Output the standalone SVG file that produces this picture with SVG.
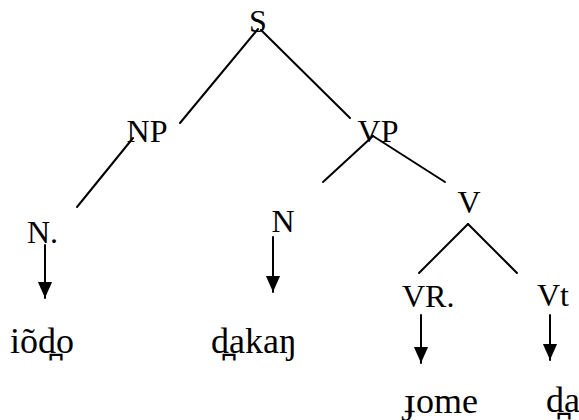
<svg xmlns="http://www.w3.org/2000/svg" width="579" height="420" viewBox="0 0 579 420">
<defs>
<style>
text{font-family:'Liberation Serif','Times New Roman','DejaVu Serif',serif;fill:#000}
.lbl{font-size:32px}
.word{font-size:36px}
.edge{stroke:#000;stroke-width:2;fill:none;stroke-linecap:round}
</style>
<marker id="ah" markerUnits="userSpaceOnUse" markerWidth="16" markerHeight="18" refX="17" refY="7.5" orient="auto" viewBox="0 0 17 15">
<path d="M0,0 L17,7.5 L0,15 Z" fill="#000"/>
</marker>
</defs>
<rect width="579" height="420" fill="#fff"/>
<g id="connectors">
<line class="edge" x1="258" y1="29" x2="180" y2="123"/>
<line class="edge" x1="261" y1="30" x2="350" y2="118"/>
<line class="edge" x1="133" y1="138" x2="77" y2="207"/>
<line class="edge" x1="373" y1="136" x2="323" y2="182"/>
<line class="edge" x1="373" y1="136" x2="445" y2="182"/>
<line class="edge" x1="468" y1="224" x2="419" y2="273"/>
<line class="edge" x1="468" y1="224" x2="517" y2="273"/>
<line class="edge" x1="45" y1="245" x2="45" y2="298" marker-end="url(#ah)"/>
<line class="edge" x1="273" y1="237" x2="273" y2="292" marker-end="url(#ah)"/>
<line class="edge" x1="421" y1="315" x2="421" y2="363" marker-end="url(#ah)"/>
<line class="edge" x1="550" y1="315" x2="550" y2="360" marker-end="url(#ah)"/>
</g>
<g id="n-S"><text class="lbl" x="258" y="32" text-anchor="middle" font-family="Liberation Serif, serif">S</text></g>
<g id="n-NP"><text class="lbl" x="147" y="142" text-anchor="middle">NP</text></g>
<g id="n-VP"><text class="lbl" x="378" y="142" text-anchor="middle">VP</text></g>
<g id="n-N1"><text class="lbl" x="27" y="243">N.</text></g>
<g id="n-N2"><text class="lbl" x="283" y="232" text-anchor="middle">N</text></g>
<g id="n-V"><text class="lbl" x="469" y="213" text-anchor="middle">V</text></g>
<g id="n-VR"><text class="lbl" x="402" y="307" font-size="28">VR.</text></g>
<g id="n-Vt"><text class="lbl" x="537" y="306" font-size="28">Vt</text></g>
<g id="w-iodo"><text class="word" x="10" y="353">iõd̪o</text></g>
<g id="w-dakan"><text class="word" x="211" y="353">d̪akaŋ</text></g>
<g id="w-jome"><text class="word" x="404" y="413" font-size="34">ɟome</text></g>
<g id="w-da"><text class="word" x="546" y="412" font-size="34">d̪a</text></g>
</svg>
